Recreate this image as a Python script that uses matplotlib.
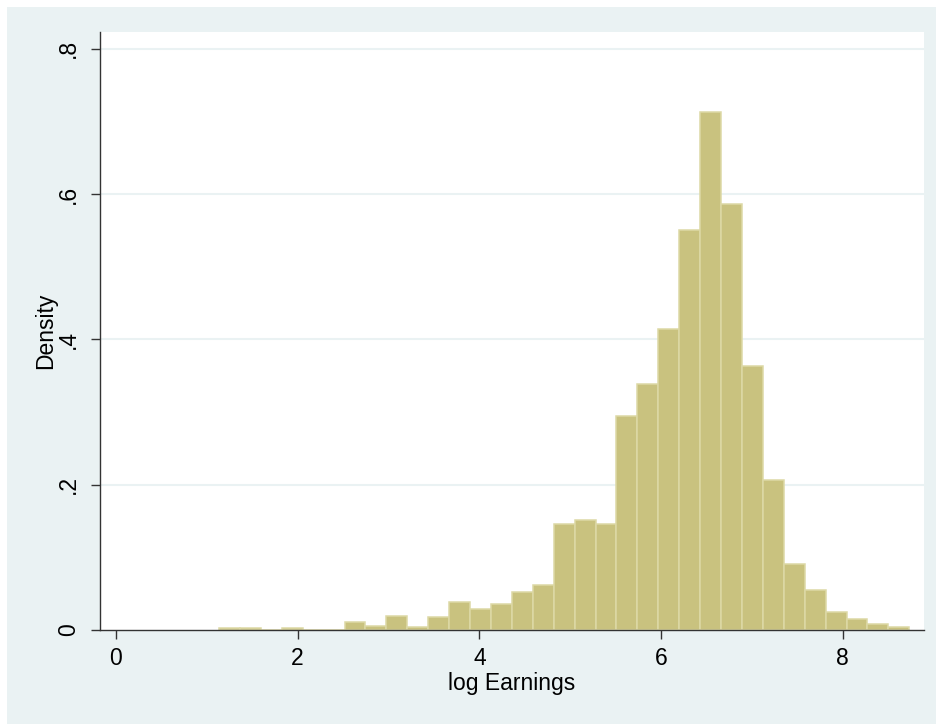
import numpy as np
import matplotlib.pyplot as plt
from matplotlib.patches import Rectangle

plt.rcParams['font.family'] = ['Liberation Sans', 'DejaVu Sans']

# Histogram of log earnings (33 bins)
bin_start = 1.134
bin_width = 0.2303
density = [0.003, 0.003, 0.0, 0.003, 0.0, 0.0, 0.0106, 0.0055, 0.0197, 0.0037,
           0.0175, 0.038, 0.0284, 0.0358, 0.0518, 0.0615, 0.1463, 0.151, 0.1463,
           0.2945, 0.3385, 0.4146, 0.5504, 0.7123, 0.5857, 0.3637, 0.2069,
           0.0913, 0.0546, 0.0243, 0.0147, 0.0083, 0.0037]
x_ticks = [0, 2, 4, 6, 8]
y_ticks = [0, 0.2, 0.4, 0.6, 0.8]
y_tick_labels = ["0", ".2", ".4", ".6", ".8"]

lefts = bin_start + bin_width * np.arange(len(density))

bg = '#EAF2F3'
fig = plt.figure(figsize=(9.37, 7.24), dpi=100, facecolor='white')
# Stata-style outer region with thin white margin at top/left
fig.patches.append(Rectangle((7 / 937, 0), 1, 1 - 7 / 724, transform=fig.transFigure,
                             facecolor=bg, edgecolor='none', zorder=-10))

ax = fig.add_axes([100 / 937, 1 - 630 / 724, (923.7 - 100) / 937, (630 - 32) / 724])
ax.set_facecolor('white')

ax.bar(lefts, density, width=bin_width, align='edge', color='#C9C27F',
       edgecolor='#DDD9A6', linewidth=1.1, zorder=3)

ax.set_xlim(-0.176, 8.892)
ax.set_ylim(0, 0.823)

ax.set_xticks(x_ticks)
ax.set_yticks(y_ticks)
ax.set_yticklabels(y_tick_labels, rotation=90, va='center')
ax.tick_params(axis='both', direction='out', length=6.5, width=1.0, color='#333333',
               labelsize=16.5, labelcolor='black')
ax.tick_params(axis='x', pad=6)
ax.tick_params(axis='y', pad=8)

for y in y_ticks[1:]:
    ax.axhline(y, color=bg, linewidth=1.5, zorder=1)

for side in ['top', 'right']:
    ax.spines[side].set_visible(False)
for side in ['left', 'bottom']:
    ax.spines[side].set_color('#333333')
    ax.spines[side].set_linewidth(1.0)
    ax.spines[side].set_zorder(4)

ax.set_xlabel("log Earnings", fontsize=16.5, labelpad=1)
ax.set_ylabel("Density", fontsize=16.5, labelpad=0)

fig.savefig("out.png", dpi=100, facecolor=fig.get_facecolor())
